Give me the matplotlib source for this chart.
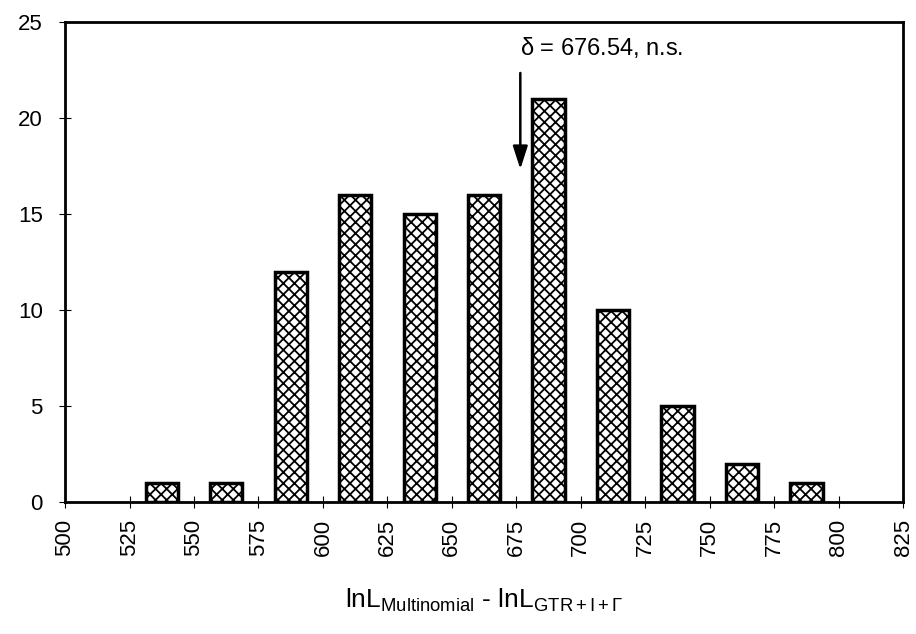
import numpy as np
import matplotlib.pyplot as plt

plt.rcParams['font.family'] = ['Liberation Sans', 'DejaVu Sans']
plt.rcParams['mathtext.fontset'] = 'custom'
plt.rcParams['mathtext.rm'] = 'Liberation Sans'
plt.rcParams['mathtext.it'] = 'Liberation Sans'
plt.rcParams['hatch.linewidth'] = 1.3

# bin centres and counts
centres = [537.5, 562.5, 587.5, 612.5, 637.5, 662.5, 687.5, 712.5, 737.5, 762.5, 787.5]
counts = [1, 1, 12, 16, 15, 16, 21, 10, 5, 2, 1]
delta = 676.54

fig = plt.figure(figsize=(9.16, 6.34), dpi=100)
ax = fig.add_axes([0.071, 0.208, 0.915, 0.757])

ax.bar(centres, counts, width=12.5, color='white', edgecolor='black',
       linewidth=2.5, hatch='xxx')

ax.set_xlim(500, 825)
ax.set_ylim(0, 25)
ax.set_xticks(np.arange(500, 826, 25))
ax.set_yticks(np.arange(0, 26, 5))
ax.tick_params(axis='x', direction='inout', length=8, width=0.8, labelsize=16,
               labelrotation=90, pad=8)
ax.tick_params(axis='y', direction='inout', length=8, width=0.8, labelsize=16, pad=12)
for s in ax.spines.values():
    s.set_linewidth(2)

ax.annotate('', xy=(delta, 17.2), xytext=(delta, 22.5),
            arrowprops=dict(arrowstyle='-|>,head_length=1.4,head_width=0.45',
                            color='black', lw=1.8))
ax.text(708, 23.7, r'$\delta$ = 676.54, n.s.', ha='center', va='center', fontsize=17)

ax.set_xlabel(r'lnL$_{\mathrm{Multinomial}}$ - lnL$_{\mathrm{GTR+I+\Gamma}}$',
              fontsize=19, labelpad=22)

fig.savefig('out.png', dpi=100)
